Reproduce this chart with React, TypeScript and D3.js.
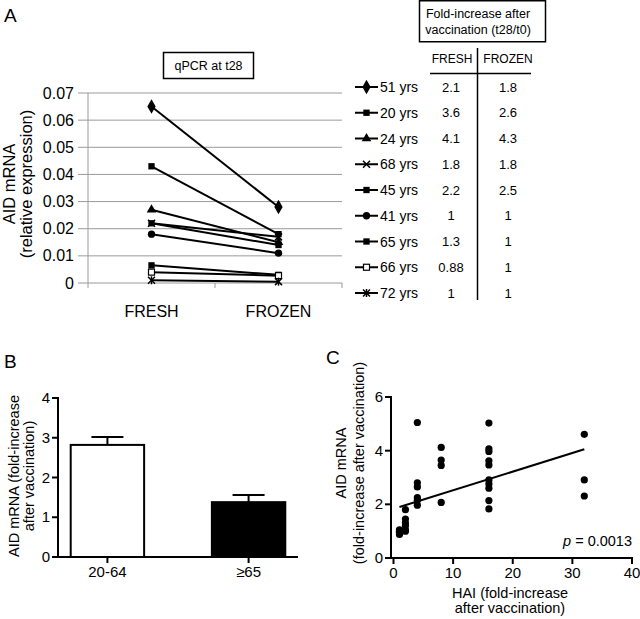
import React from "react";
import * as d3 from "d3";

// ---------- Panel A data ----------
const ages = ["51 yrs", "20 yrs", "24 yrs", "68 yrs", "45 yrs", "41 yrs", "65 yrs", "66 yrs", "72 yrs"];
const freshQ = [0.065, 0.043, 0.027, 0.022, 0.022, 0.018, 0.0065, 0.004, 0.001];
const frozenQ = [0.028, 0.018, 0.015, 0.017, 0.014, 0.011, 0.003, 0.0027, 0.0005];
const markerKinds = ["diamond", "square", "triangle", "x", "square", "circle", "square", "openSquare", "star"];
const foldFresh = ["2.1", "3.6", "4.1", "1.8", "2.2", "1", "1.3", "0.88", "1"];
const foldFrozen = ["1.8", "2.6", "4.3", "1.8", "2.5", "1", "1", "1", "1"];
const conditions = ["FRESH", "FROZEN"];
const aTicks = [0, 0.01, 0.02, 0.03, 0.04, 0.05, 0.06, 0.07];

// ---------- Panel B data ----------
const groups = ["20-64", "≥65"];
const groupMeans = [2.82, 1.38];
const groupSem = [0.2, 0.18];
const bTicks = [0, 1, 2, 3, 4];

// ---------- Panel C data ----------
const haiFold = [1, 1, 1, 1, 2, 2, 2, 2, 2, 2, 4, 4, 4, 4, 4, 4, 8, 8, 8, 8, 16, 16, 16, 16, 16, 16, 16, 16, 16, 16, 32, 32, 32];
const aidFold = [0.88, 0.95, 1.0, 1.05, 1.8, 1.45, 1.3, 1.2, 1.05, 1.0, 5.05, 2.8, 2.65, 2.25, 2.15, 1.97, 4.12, 3.65, 3.45, 2.07, 5.03, 4.07, 3.97, 3.62, 3.47, 2.91, 2.76, 2.6, 2.14, 1.83, 4.61, 2.91, 2.31];
const fitX = [1, 32];
const fitY = [1.9, 4.05];
const cXTicks = [0, 10, 20, 30, 40];
const cYTicks = [0, 2, 4, 6];

const FONT = "'Liberation Sans', Arial, sans-serif";

function Marker({ kind, x, y }: { kind: string; x: number; y: number }) {
  const t = `translate(${x},${y})`;
  if (kind === "diamond") return <path transform={t} d={d3.symbol(d3.symbolDiamond, 60)()!} fill="#000" />;
  if (kind === "square") return <path transform={t} d={d3.symbol(d3.symbolSquare, 40)()!} fill="#000" />;
  if (kind === "triangle") return <path transform={t} d={d3.symbol(d3.symbolTriangle, 40)()!} fill="#000" />;
  if (kind === "circle") return <path transform={t} d={d3.symbol(d3.symbolCircle, 42)()!} fill="#000" />;
  if (kind === "openSquare")
    return <rect x={x - 3} y={y - 3} width={6} height={6} fill="#fff" stroke="#000" strokeWidth={1.2} />;
  if (kind === "x")
    return (
      <g transform={t} stroke="#000" strokeWidth={1.5}>
        <line x1={-3.5} y1={-3.5} x2={3.5} y2={3.5} />
        <line x1={-3.5} y1={3.5} x2={3.5} y2={-3.5} />
      </g>
    );
  // star / asterisk
  return (
    <g transform={t} stroke="#000" strokeWidth={1.5}>
      <line x1={-3.5} y1={-3.5} x2={3.5} y2={3.5} />
      <line x1={-3.5} y1={3.5} x2={3.5} y2={-3.5} />
      <line x1={0} y1={-4} x2={0} y2={4} />
    </g>
  );
}

function PanelA() {
  const x = d3.scaleBand().domain(conditions).range([88, 342]);
  const y = d3.scaleLinear().domain([0, 0.07]).range([283, 93]);
  const cx = (c: string) => x(c)! + x.bandwidth() / 2;
  const legendY = d3.scaleLinear().domain([0, 8]).range([87, 293]);
  return (
    <g fontFamily={FONT}>
      <text x={4} y={22} fontSize={19}>A</text>
      {/* title box */}
      <rect x={163.5} y={52.5} width={90} height={26} fill="#fff" stroke="#000" strokeWidth={1.5} />
      <text x={208.5} y={70} fontSize={12.5} textAnchor="middle">qPCR at t28</text>
      {/* grid */}
      {aTicks.map((t) => (
        <g key={t}>
          <line x1={78} x2={342} y1={y(t)} y2={y(t)} stroke="#9a9a9a" strokeWidth={1} />
          <text x={74} y={y(t) + 5.5} fontSize={16} textAnchor="end">{t === 0 ? "0" : t.toFixed(2)}</text>
        </g>
      ))}
      <line x1={88} x2={88} y1={y(0.07)} y2={y(0)} stroke="#9a9a9a" />
      {[88, 215, 342].map((v) => (
        <line key={v} x1={v} x2={v} y1={283} y2={288} stroke="#9a9a9a" />
      ))}
      {conditions.map((c) => (
        <text key={c} x={cx(c)} y={317} fontSize={16} textAnchor="middle">{c}</text>
      ))}
      <text transform="translate(15,184) rotate(-90)" fontSize={16.5} textAnchor="middle">AID mRNA</text>
      <text transform="translate(32,184) rotate(-90)" fontSize={16.5} textAnchor="middle">(relative expression)</text>
      {/* series */}
      {ages.map((a, i) => (
        <g key={a}>
          <line x1={cx("FRESH")} y1={y(freshQ[i])} x2={cx("FROZEN")} y2={y(frozenQ[i])} stroke="#000" strokeWidth={2} />
          <Marker kind={markerKinds[i]} x={cx("FRESH")} y={y(freshQ[i])} />
          <Marker kind={markerKinds[i]} x={cx("FROZEN")} y={y(frozenQ[i])} />
        </g>
      ))}
      {/* legend */}
      {ages.map((a, i) => (
        <g key={a}>
          <line x1={355} x2={378} y1={legendY(i)} y2={legendY(i)} stroke="#000" strokeWidth={2} />
          <Marker kind={markerKinds[i]} x={366.5} y={legendY(i)} />
          <text x={380} y={legendY(i) + 5} fontSize={14}>{a}</text>
          <text x={451} y={legendY(i) + 4.5} fontSize={13} textAnchor="middle">{foldFresh[i]}</text>
          <text x={508} y={legendY(i) + 4.5} fontSize={13} textAnchor="middle">{foldFrozen[i]}</text>
        </g>
      ))}
      {/* table */}
      <rect x={419.5} y={0.75} width={126} height={41} fill="#fff" stroke="#000" strokeWidth={1.5} />
      <text x={478} y={18} fontSize={12.5} textAnchor="middle">Fold-increase after</text>
      <text x={478} y={34} fontSize={12.5} textAnchor="middle">vaccination (t28/t0)</text>
      <text x={452} y={63} fontSize={12} textAnchor="middle">FRESH</text>
      <text x={508} y={63} fontSize={12} textAnchor="middle">FROZEN</text>
      <line x1={430} x2={531} y1={73.5} y2={73.5} stroke="#000" strokeWidth={1.5} />
      <line x1={477.5} x2={477.5} y1={48} y2={300} stroke="#000" strokeWidth={1.5} />
    </g>
  );
}

function PanelB() {
  const x = d3.scaleBand().domain(groups).range([58, 298]).paddingInner(0.48).paddingOuter(0.09);
  const y = d3.scaleLinear().domain([0, 4]).range([557, 398]);
  return (
    <g fontFamily={FONT}>
      <text x={4} y={368} fontSize={19}>B</text>
      <text transform="translate(19,476) rotate(-90)" fontSize={14.5} textAnchor="middle">AID mRNA (fold-increase</text>
      <text transform="translate(34,476) rotate(-90)" fontSize={14.5} textAnchor="middle">after vaccination)</text>
      {groups.map((g, i) => {
        const bx = x(g)!;
        const bw = x.bandwidth();
        const mid = bx + bw / 2;
        return (
          <g key={g}>
            <line x1={mid} x2={mid} y1={y(groupMeans[i])} y2={y(groupMeans[i] + groupSem[i])} stroke="#000" strokeWidth={2} />
            <line x1={mid - 16} x2={mid + 16} y1={y(groupMeans[i] + groupSem[i])} y2={y(groupMeans[i] + groupSem[i])} stroke="#000" strokeWidth={2} />
            <rect x={bx} y={y(groupMeans[i])} width={bw} height={y(0) - y(groupMeans[i])} fill={i === 0 ? "#fff" : "#000"} stroke="#000" strokeWidth={2} />
            <line x1={mid} x2={mid} y1={557} y2={563} stroke="#000" strokeWidth={2} />
            <text x={mid} y={577} fontSize={15} textAnchor="middle">{g}</text>
          </g>
        );
      })}
      <line x1={58} x2={58} y1={397} y2={558} stroke="#000" strokeWidth={2} />
      <line x1={57} x2={298} y1={557} y2={557} stroke="#000" strokeWidth={2} />
      {bTicks.map((t) => (
        <g key={t}>
          <line x1={52} x2={58} y1={y(t)} y2={y(t)} stroke="#000" strokeWidth={2} />
          <text x={50} y={y(t) + 5} fontSize={15} textAnchor="end">{t}</text>
        </g>
      ))}
    </g>
  );
}

function PanelC() {
  const x = d3.scaleLinear().domain([0, 40]).range([393.5, 632]);
  const y = d3.scaleLinear().domain([0, 6]).range([558, 397]);
  return (
    <g fontFamily={FONT}>
      <text x={326} y={364} fontSize={19}>C</text>
      <text transform="translate(346,463) rotate(-90)" fontSize={14.5} textAnchor="middle">AID mRNA</text>
      <text transform="translate(364,463) rotate(-90)" fontSize={14.5} textAnchor="middle">(fold-increase after vaccination)</text>
      <line x1={391} x2={391} y1={396} y2={559} stroke="#000" strokeWidth={2} />
      <line x1={390} x2={633} y1={558} y2={558} stroke="#000" strokeWidth={2} />
      {cYTicks.map((t) => (
        <g key={t}>
          <line x1={385} x2={391} y1={y(t)} y2={y(t)} stroke="#000" strokeWidth={2} />
          <text x={383} y={y(t) + 5} fontSize={15} textAnchor="end">{t}</text>
        </g>
      ))}
      {cXTicks.map((t) => (
        <g key={t}>
          <line x1={x(t)} x2={x(t)} y1={558} y2={564} stroke="#000" strokeWidth={2} />
          <text x={x(t)} y={578} fontSize={15} textAnchor="middle">{t}</text>
        </g>
      ))}
      <text x={510} y={598} fontSize={14.5} textAnchor="middle">HAI (fold-increase</text>
      <text x={510} y={613} fontSize={14.5} textAnchor="middle">after vaccination)</text>
      {haiFold.map((h, i) => (
        <circle key={i} cx={x(h)} cy={y(aidFold[i])} r={3.6} fill="#000" />
      ))}
      <line x1={x(fitX[0])} y1={y(fitY[0])} x2={x(fitX[1])} y2={y(fitY[1])} stroke="#000" strokeWidth={2} />
      <text x={632} y={546} fontSize={14.5} textAnchor="end">
        <tspan fontStyle="italic">p</tspan> = 0.0013
      </text>
    </g>
  );
}

export default function App() {
  return (
    <svg width={640} height={619} style={{ position: "absolute", left: 0, top: 0, background: "#fff" }}>
      <rect width={640} height={619} fill="#fff" />
      <PanelA />
      <PanelB />
      <PanelC />
    </svg>
  );
}
